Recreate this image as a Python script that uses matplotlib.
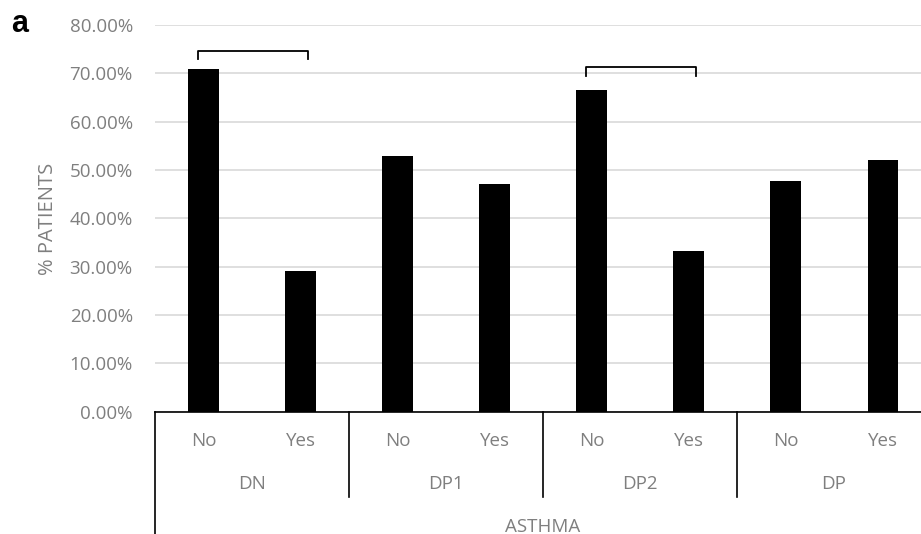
import matplotlib.pyplot as plt
import matplotlib.transforms as mtransforms

groups = ["DN", "DP1", "DP2", "DP"]
answers = ["No", "Yes"]
pct_no = [70.83, 52.94, 66.67, 47.83]
pct_yes = [29.17, 47.06, 33.33, 52.17]

# brackets: (group index, lower y %, upper y %)
brackets = [(0, 73.0, 74.7), (2, 69.5, 71.4)]

grey = "#7f7f7f"
fs = 13.5
plt.rcParams["font.family"] = ["Open Sans", "DejaVu Sans"]

fig = plt.figure(figsize=(9.21, 5.34), dpi=100)
ax = fig.add_axes([0.1683, 0.229, 0.8426, 0.724])

values = []
for n, y in zip(pct_no, pct_yes):
    values += [n / 100, y / 100]
xs = list(range(len(values)))

ax.bar(xs, values, width=0.31, color="black", zorder=3)

ax.set_xlim(-0.5, len(values) - 0.5)
ax.set_ylim(0, 0.8)
ax.set_yticks([i / 10 for i in range(9)])
ax.set_yticklabels([f"{i * 10:.2f}%" for i in range(9)], color=grey, fontsize=fs)
ax.tick_params(axis="y", length=0, pad=16)
ax.tick_params(axis="x", length=0, labelbottom=False)
ax.grid(axis="y", color="#d9d9d9", linewidth=1.2, zorder=0)
ax.set_axisbelow(True)
for side in ["left", "right", "top"]:
    ax.spines[side].set_visible(False)
ax.spines["bottom"].set_color("black")
ax.spines["bottom"].set_linewidth(1.2)

ax.set_ylabel("% PATIENTS", color=grey, fontsize=14.5, labelpad=8)

# significance brackets
for g, y0, y1 in brackets:
    x0 = 2 * g - 0.06
    x1 = 2 * g + 1 + 0.08
    ax.plot([x0, x0, x1, x1], [y0 / 100, y1 / 100, y1 / 100, y0 / 100],
            color="black", linewidth=1.3, clip_on=False, zorder=4)

# category table under the axis
tr = mtransforms.blended_transform_factory(ax.transData, ax.transAxes)
for i, x in enumerate(xs):
    ax.text(x, -0.076, answers[i % 2], transform=tr, ha="center", va="center",
            color=grey, fontsize=fs)
for g, name in enumerate(groups):
    ax.text(2 * g + 0.5, -0.186, name, transform=tr, ha="center", va="center",
            color=grey, fontsize=fs)
    if g > 0:
        ax.plot([2 * g - 0.5] * 2, [0, -0.22], transform=tr, color="black",
                linewidth=1.2, clip_on=False)
ax.plot([-0.5, -0.5], [0, -0.33], transform=tr, color="black",
        linewidth=1.2, clip_on=False)
ax.text(3.5, -0.297, "ASTHMA", transform=tr, ha="center", va="center",
        color=grey, fontsize=fs)

fig.text(0.012, 0.955, "a", fontsize=22, fontweight="bold",
         family="Liberation Sans", va="center")

fig.savefig("out.png", dpi=100)
